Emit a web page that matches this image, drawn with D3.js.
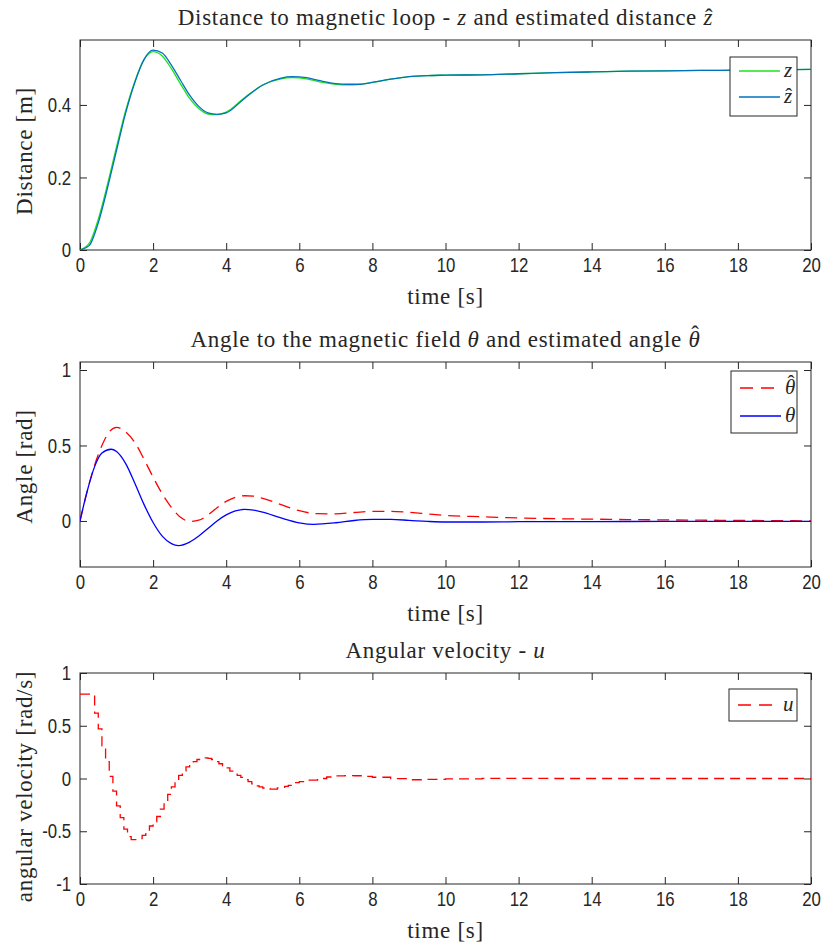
<!DOCTYPE html>
<html>
<head>
<meta charset="utf-8">
<title>Magnetic loop: distance, angle and angular velocity</title>
<script src="https://cdnjs.cloudflare.com/ajax/libs/d3/7.8.5/d3.min.js"></script>
<style>
    body { margin: 0; background: #fff; }
    svg text { fill: #262626; }
    .tick text {
        font-family: "Liberation Sans", Arial, sans-serif;
        font-size: 21px;
    }
    .serif { font-family: "Liberation Serif", "DejaVu Serif", serif; letter-spacing: 0.7px; }
</style>
</head>
<body>
<div id="chart"></div>
<script>
    // ---- data ----
    var xTicks = [0, 2, 4, 6, 8, 10, 12, 14, 16, 18, 20];

    // distance z and estimate z-hat
    var timeZ = [0, 0.25, 0.5, 0.75, 1, 1.25, 1.5, 1.75, 2, 2.25, 2.5, 2.75, 3, 3.25, 3.5, 3.75, 4, 4.5, 5, 5.5,
        5.8, 6.2, 6.6, 7, 7.3, 7.6, 8, 8.5, 9, 9.5, 10, 11, 12, 13, 14, 15, 16, 17, 18, 19, 20];
    var zVals = [0, 0.018, 0.085, 0.18, 0.285, 0.385, 0.465, 0.525, 0.547, 0.535, 0.5, 0.458, 0.418, 0.39, 0.375,
        0.373, 0.38, 0.42, 0.455, 0.472, 0.475, 0.472, 0.463, 0.457, 0.455, 0.456, 0.462, 0.471, 0.478, 0.481,
        0.482, 0.483, 0.486, 0.489, 0.491, 0.493, 0.494, 0.495, 0.496, 0.497, 0.498];
    var zHatVals = [0, 0.012, 0.075, 0.17, 0.275, 0.378, 0.462, 0.525, 0.551, 0.543, 0.51, 0.468, 0.427, 0.396, 0.378,
        0.374, 0.378, 0.418, 0.455, 0.474, 0.478, 0.475, 0.466, 0.459, 0.457, 0.457, 0.462, 0.471, 0.478, 0.481,
        0.482, 0.483, 0.486, 0.489, 0.491, 0.493, 0.494, 0.495, 0.496, 0.497, 0.498];
    var zTicks = [0, 0.2, 0.4];

    // angle theta and estimate theta-hat
    var timeTheta = [0, 0.2, 0.4, 0.6, 0.85, 1, 1.25, 1.5, 1.75, 2, 2.25, 2.5, 2.7, 3, 3.25, 3.5, 3.75, 4, 4.25, 4.5,
        4.75, 5, 5.5, 6, 6.4, 7, 7.5, 8, 8.5, 9, 9.5, 10, 11, 12, 13, 14, 16, 18, 20];
    var thetaVals = [0, 0.2, 0.36, 0.45, 0.475, 0.46, 0.38, 0.25, 0.11, -0.01, -0.1, -0.15, -0.163, -0.14, -0.1,
        -0.05, 0, 0.04, 0.066, 0.077, 0.072, 0.058, 0.02, -0.012, -0.022, -0.012, 0.003, 0.01, 0.01, 0.004,
        -0.003, -0.007, -0.007, -0.005, -0.004, -0.004, -0.003, -0.003, -0.003];
    var timeThetaHat = [0, 0.2, 0.4, 0.6, 0.8, 1, 1.2, 1.5, 1.75, 2, 2.25, 2.5, 2.75, 3, 3.25, 3.5, 3.75, 4, 4.25, 4.5,
        4.75, 5, 5.5, 6, 6.5, 7, 7.5, 8, 8.5, 9, 9.5, 10, 11, 12, 13, 14, 15, 16, 17, 18, 19, 20];
    var thetaHatVals = [0, 0.2, 0.37, 0.5, 0.59, 0.62, 0.6, 0.52, 0.41, 0.29, 0.18, 0.09, 0.025, -0.003, 0.005,
        0.04, 0.088, 0.13, 0.157, 0.167, 0.164, 0.15, 0.108, 0.068, 0.048, 0.047, 0.056, 0.064, 0.064, 0.057,
        0.047, 0.037, 0.028, 0.02, 0.015, 0.012, 0.009, 0.007, 0.005, 0.004, 0.002, 0.001];
    var thetaTicks = [0, 0.5, 1];

    // angular velocity u (zero-order hold samples)
    var timeU = [0, 0.1, 0.2, 0.3, 0.4, 0.5, 0.6, 0.7, 0.8, 0.9, 1, 1.1, 1.2, 1.3, 1.4, 1.5, 1.6, 1.7, 1.8, 1.9,
        2, 2.1, 2.2, 2.3, 2.4, 2.5, 2.6, 2.7, 2.8, 2.9, 3, 3.1, 3.2, 3.3, 3.4, 3.5, 3.6, 3.7, 3.8, 3.9,
        4, 4.1, 4.2, 4.3, 4.4, 4.5, 4.6, 4.7, 4.8, 4.9, 5, 5.1, 5.2, 5.3, 5.4, 5.5, 5.6, 5.7, 5.8, 5.9,
        6, 6.25, 6.5, 6.75, 7, 7.25, 7.5, 7.75, 8, 8.5, 9, 9.5, 10, 11, 12, 13, 20];
    var uVals = [0.8, 0.8, 0.8, 0.8, 0.62, 0.47, 0.31, 0.16, 0.02, -0.12, -0.26, -0.37, -0.48, -0.55, -0.58, -0.58,
        -0.57, -0.54, -0.5, -0.45, -0.41, -0.36, -0.29, -0.22, -0.15, -0.08, -0.02, 0.03, 0.07, 0.11,
        0.14, 0.16, 0.18, 0.19, 0.195, 0.19, 0.18, 0.16, 0.14, 0.12, 0.1, 0.07, 0.05, 0.03, 0.01, -0.01,
        -0.03, -0.05, -0.07, -0.08, -0.09, -0.095, -0.1, -0.1, -0.09, -0.085, -0.075, -0.065, -0.05, -0.04,
        -0.03, -0.015, 0, 0.014, 0.024, 0.028, 0.026, 0.02, 0.012, -0.002, -0.012, -0.009, -0.004, 0.002,
        0.002, 0, 0];
    var uTicks = [-1, -0.5, 0, 0.5, 1];

    var axisColor = '#262626';
    var left = 80, right = 811;

    var svg = d3.select('#chart').append('svg')
        .attr('width', 826)
        .attr('height', 952)
        .style('background', '#fff');

    var x = d3.scaleLinear().domain([0, 20]).range([left, right]);

    function zip(t, v) {
        return t.map(function (d, i) { return [d, v[i]]; });
    }

    // plain / italic pieces; a hatted symbol gets a circumflex drawn above it
    // (hat = [dx, dy] in em, tall letters need it raised more)
    function richText(sel, parts) {
        parts.forEach(function (p) {
            var ts = sel.append('tspan').text(p.t);
            if (p.i) ts.style('font-style', 'italic');
            if (p.hat) {
                sel.append('tspan').text('\u02c6')
                    .attr('dx', p.hat[0] + 'em').attr('dy', p.hat[1] + 'em')
                    .style('font-style', 'normal');
            }
        });
    }

    var zHat = [-0.36, 0.02];
    var thHat = [-0.4, -0.2];

    function panel(o) {
        var y = d3.scaleLinear().domain(o.yDomain).range([o.bottom, o.top]);
        var g = svg.append('g');
        var clipId = 'clip' + o.id;

        g.append('clipPath').attr('id', clipId)
            .append('rect')
            .attr('x', left).attr('y', o.top)
            .attr('width', right - left).attr('height', o.bottom - o.top);

        // ticks inside the box, MATLAB style
        var fmt = function (d) { return String(d); };
        g.append('g').attr('transform', 'translate(0,' + o.bottom + ')')
            .call(d3.axisBottom(x).tickValues(xTicks).tickFormat(fmt).tickSizeInner(-7).tickSizeOuter(0).tickPadding(7));
        g.append('g').attr('transform', 'translate(0,' + o.top + ')')
            .call(d3.axisTop(x).tickValues(xTicks).tickFormat('').tickSizeInner(-7).tickSizeOuter(0));
        g.append('g').attr('transform', 'translate(' + left + ',0)')
            .call(d3.axisLeft(y).tickValues(o.yTicks).tickFormat(fmt).tickSizeInner(-7).tickSizeOuter(0).tickPadding(11));
        g.append('g').attr('transform', 'translate(' + right + ',0)')
            .call(d3.axisRight(y).tickValues(o.yTicks).tickFormat('').tickSizeInner(-7).tickSizeOuter(0));

        g.selectAll('.domain').remove();
        g.selectAll('.tick line').attr('stroke', axisColor);
        // narrow the tick digits like the Helvetica of the original
        g.selectAll('.tick text').attr('fill', axisColor).attr('transform', 'scale(0.8,1)');

        g.append('rect')
            .attr('x', left).attr('y', o.top)
            .attr('width', right - left).attr('height', o.bottom - o.top)
            .attr('fill', 'none').attr('stroke', axisColor).attr('stroke-width', 1);

        var lines = g.append('g').attr('clip-path', 'url(#' + clipId + ')');
        o.series.forEach(function (s) {
            var line = d3.line()
                .x(function (d) { return x(d[0]); })
                .y(function (d) { return y(d[1]); })
                .curve(s.curve || d3.curveMonotoneX);
            lines.append('path')
                .datum(s.data)
                .attr('d', line)
                .attr('fill', 'none')
                .attr('stroke', s.color)
                .attr('stroke-width', 1.3)
                .attr('stroke-dasharray', s.dash || null);
        });

        // title
        var title = g.append('text').attr('class', 'serif')
            .attr('x', (left + right) / 2).attr('y', o.top - 15)
            .attr('text-anchor', 'middle').style('font-size', '23px');
        richText(title, o.title);

        // x label
        g.append('text').attr('class', 'serif')
            .attr('x', (left + right) / 2).attr('y', o.bottom + 54)
            .attr('text-anchor', 'middle').style('font-size', '23px')
            .text('time [s]');

        // y label
        g.append('text').attr('class', 'serif')
            .attr('transform', 'translate(32,' + ((o.top + o.bottom) / 2 + o.ylabelShift) + ') rotate(-90)')
            .attr('text-anchor', 'middle').style('font-size', '23px')
            .text(o.ylabel);

        // legend
        var lg = g.append('g');
        lg.append('rect')
            .attr('x', o.legend.x).attr('y', o.legend.y)
            .attr('width', o.legend.w).attr('height', o.legend.h)
            .attr('fill', '#fff').attr('stroke', axisColor).attr('stroke-width', 1);
        o.legend.items.forEach(function (it, i) {
            var cy = o.legend.y + o.legend.first + i * o.legend.step;
            lg.append('line')
                .attr('x1', o.legend.x + 9).attr('x2', o.legend.x + 50)
                .attr('y1', cy).attr('y2', cy)
                .attr('stroke', it.color).attr('stroke-width', 1.3)
                .attr('stroke-dasharray', it.dash || null);
            var t = lg.append('text').attr('class', 'serif')
                .attr('x', o.legend.x + 54).attr('y', cy + 6)
                .style('font-size', '21px');
            richText(t, [{t: it.label, i: true, hat: it.hat}]);
        });
    }

    panel({
        id: 1, top: 40, bottom: 250, yDomain: [0, 0.579], yTicks: zTicks,
        title: [{t: 'Distance to magnetic loop - '}, {t: 'z', i: true}, {t: ' and estimated distance '}, {t: 'z', i: true, hat: zHat}],
        ylabel: 'Distance [m]', ylabelShift: 6,
        series: [
            {data: zip(timeZ, zVals), color: '#1fe01f'},
            {data: zip(timeZ, zHatVals), color: '#0072bd'}
        ],
        legend: {x: 730, y: 57, w: 67, h: 59, first: 14, step: 26, items: [
            {label: 'z', color: '#1fe01f'},
            {label: 'z', hat: zHat, color: '#0072bd'}
        ]}
    });

    panel({
        id: 2, top: 362, bottom: 567, yDomain: [-0.305, 1.053], yTicks: thetaTicks,
        title: [{t: 'Angle to the magnetic field '}, {t: '\u03b8', i: true}, {t: ' and estimated angle '}, {t: '\u03b8', i: true, hat: thHat}],
        ylabel: 'Angle [rad]', ylabelShift: 2,
        series: [
            {data: zip(timeThetaHat, thetaHatVals), color: '#ff0000', dash: '12,7'},
            {data: zip(timeTheta, thetaVals), color: '#0000ff'}
        ],
        legend: {x: 731, y: 371, w: 66, h: 62, first: 17, step: 28, items: [
            {label: '\u03b8', hat: thHat, color: '#ff0000', dash: '13,8'},
            {label: '\u03b8', color: '#0000ff'}
        ]}
    });

    panel({
        id: 3, top: 673, bottom: 884, yDomain: [-1, 1], yTicks: uTicks,
        title: [{t: 'Angular velocity - '}, {t: 'u', i: true}],
        ylabel: 'angular velocity [rad/s]', ylabelShift: 8,
        series: [
            {data: zip(timeU, uVals), color: '#ff0000', dash: '10,6', curve: d3.curveStepAfter}
        ],
        legend: {x: 729, y: 689, w: 68, h: 32, first: 16, step: 0, items: [
            {label: 'u', color: '#ff0000', dash: '13,8'}
        ]}
    });
</script>
</body>
</html>
